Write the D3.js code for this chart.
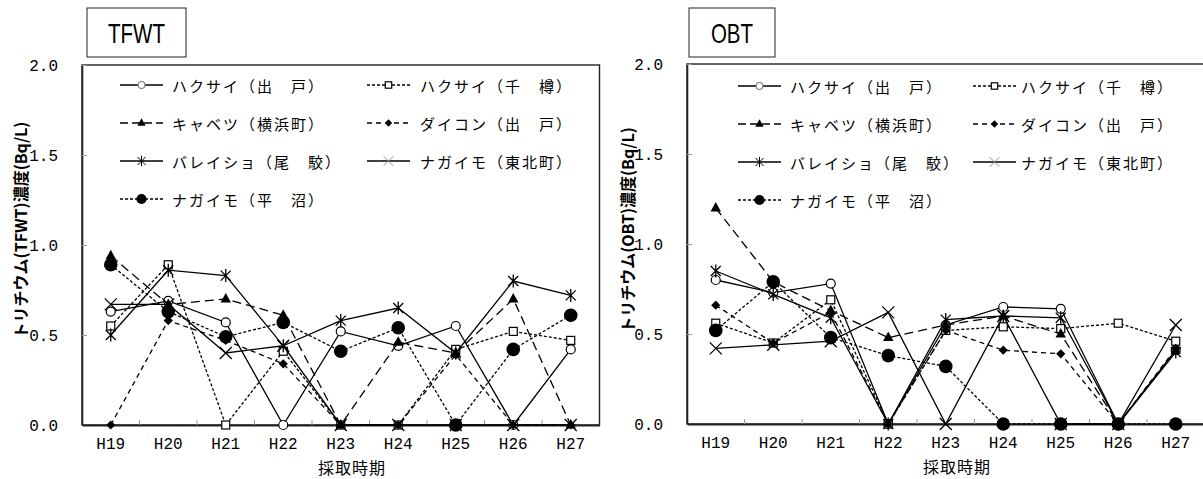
<!DOCTYPE html>
<html><head><meta charset="utf-8">
<script src="https://cdn.jsdelivr.net/npm/d3@7"></script>
<style>body{margin:0;background:#fff;} svg{display:block}</style>
</head><body>
<script>
// ---------------- DATA ----------------
const categories = ["H19","H20","H21","H22","H23","H24","H25","H26","H27"];
const seriesNames = ["ハクサイ（出　戸）","ハクサイ（千　樽）","キャベツ（横浜町）","ダイコン（出　戸）","バレイショ（尾　駮）","ナガイモ（東北町）","ナガイモ（平　沼）"];
const yTickValues = [0.0, 0.5, 1.0, 1.5, 2.0];

// TFWT
const tfwtHakusaiDeto     = [0.63,0.69,0.57,0.00,0.52,0.44,0.55,0.00,0.42];
const tfwtHakusaiChitaru  = [0.55,0.89,0.00,0.41,0.00,0.00,0.42,0.52,0.47];
const tfwtCabbage         = [0.94,0.67,0.70,0.61,0.00,0.46,0.40,0.70,0.00];
const tfwtDaikon          = [0.00,0.58,0.47,0.34,0.00,0.00,0.39,0.00,0.00];
const tfwtBareisho        = [0.50,0.86,0.83,0.44,0.58,0.65,0.40,0.80,0.72];
const tfwtNagaimoTohoku   = [0.67,0.67,0.40,0.44,0.00,0.00,0.00,0.00,0.00];
const tfwtNagaimoHiranuma = [0.89,0.63,0.49,0.57,0.41,0.54,0.00,0.42,0.61];

// OBT
const obtHakusaiDeto     = [0.80,0.73,0.78,0.00,0.55,0.65,0.64,0.00,0.41];
const obtHakusaiChitaru  = [0.56,0.45,0.69,0.00,0.52,0.54,0.53,0.56,0.46];
const obtCabbage         = [1.20,0.79,0.63,0.48,0.55,0.60,0.50,0.00,0.41];
const obtDaikon          = [0.66,0.45,0.62,0.00,0.52,0.41,0.39,0.00,0.42];
const obtBareisho        = [0.85,0.72,0.59,0.00,0.58,0.60,0.59,0.00,0.40];
const obtNagaimoTohoku   = [0.42,0.44,0.46,0.62,0.00,0.60,0.00,0.00,0.55];
const obtNagaimoHiranuma = [0.52,0.79,0.48,0.38,0.32,0.00,0.00,0.00,0.00];

// ---------------- STYLES ----------------
const seriesDash   = [null, "3,2", "9,5", "5,4", null, null, "3,2"];
const seriesMarker = ["circle","square","triangle","diamond","star","x","dot"];

const W = 1203, H = 479;
const svg = d3.select("body").append("svg").attr("width", W).attr("height", H);
const JP = "'Noto Sans CJK JP','Noto Sans',sans-serif";
const MONO = "'Liberation Mono','DejaVu Sans Mono',monospace";

function drawMarker(g, type, k, legend) {
  const sw = legend ? 1 : 1.3;
  if (type === "circle") {
    g.append("circle").attr("r", 4.5*k).attr("fill","#fff").attr("stroke", legend ? "#555" : "#000").attr("stroke-width", legend ? 0.9 : 1.2);
  } else if (type === "square") {
    g.append("rect").attr("x",-4*k).attr("y",-4*k).attr("width",8*k).attr("height",8*k)
      .attr("fill","#fff").attr("stroke","#000").attr("stroke-width", 1.2);
  } else if (type === "triangle") {
    g.append("path").attr("d", `M0,${-6*k}L${5.2*k},${3.5*k}L${-5.2*k},${3.5*k}Z`).attr("fill","#000");
  } else if (type === "diamond") {
    g.append("path").attr("d", `M0,${-4.6*k}L${4.6*k},0L0,${4.6*k}L${-4.6*k},0Z`).attr("fill","#000");
  } else if (type === "star") {
    const s = 6.5*k, d = 5*k;
    g.append("path").attr("d", `M0,${-s}L0,${s}M${-d},${-d}L${d},${d}M${d},${-d}L${-d},${d}`)
      .attr("stroke","#000").attr("stroke-width", sw).attr("fill","none");
  } else if (type === "x") {
    const d = 6*k;
    g.append("path").attr("d", `M${-d},${-d}L${d},${d}M${d},${-d}L${-d},${d}`)
      .attr("stroke", legend ? "#888" : "#000").attr("stroke-width", legend ? 0.9 : 1.3).attr("fill","none");
  } else if (type === "dot") {
    g.append("circle").attr("r", 6.8*k).attr("fill","#000");
  }
}

function drawChart(cfg) {
  const g = svg.append("g");
  const xs = d3.scaleBand().domain(categories).range([cfg.x0, cfg.x1]).padding(0);
  const ys = d3.scaleLinear().domain([0, 2]).range([cfg.yBot, cfg.yTop]);
  const cx = c => xs(c) + xs.bandwidth()/2;

  // plot frame
  g.append("rect").attr("x", cfg.x0).attr("y", cfg.yTop)
    .attr("width", cfg.x1 - cfg.x0).attr("height", cfg.yBot - cfg.yTop)
    .attr("fill","none").attr("stroke","#222").attr("stroke-width",1.4);

  // y axis
  const yAxis = d3.axisLeft(ys).tickValues(yTickValues).tickFormat(d3.format(".1f"))
    .tickSizeInner(-5).tickSizeOuter(0).tickPadding(24);
  const ya = g.append("g").attr("transform", `translate(${cfg.x0},0)`).call(yAxis);
  ya.select(".domain").attr("stroke","#222").attr("stroke-width",1.6);
  ya.selectAll(".tick line").attr("stroke","#999");
  ya.selectAll(".tick text").attr("font-family", MONO).attr("font-size", 16).attr("fill","#000");

  // x axis: labels at band centres
  const xAxis = d3.axisBottom(xs).tickSize(0).tickPadding(13);
  const xa = g.append("g").attr("transform", `translate(0,${cfg.yBot})`).call(xAxis);
  xa.select(".domain").attr("stroke","#222").attr("stroke-width",2);
  xa.selectAll(".tick text").attr("font-family", MONO).attr("font-size", 16).attr("fill","#000");
  // boundary tick marks (inward)
  g.append("g").selectAll("line").data(categories.slice(1)).join("line")
    .attr("x1", c => xs(c)).attr("x2", c => xs(c))
    .attr("y1", cfg.yBot).attr("y2", cfg.yBot - 5).attr("stroke","#999");

  // axis titles
  g.append("text").attr("transform", `translate(${cfg.ylabX},${cfg.ylabY}) rotate(-90)`)
    .attr("text-anchor","middle").attr("dominant-baseline","central")
    .attr("font-family", JP).attr("font-weight","bold").attr("font-size",16).text(cfg.ylabel);
  g.append("text").attr("x", cfg.xlabX).attr("y", cfg.xlabY)
    .attr("text-anchor","middle").attr("dominant-baseline","central")
    .attr("font-family", JP).attr("font-size",16).attr("letter-spacing",1).text("採取時期");

  // title box
  g.append("rect").attr("x", cfg.tb[0]).attr("y", cfg.tb[1]).attr("width", cfg.tb[2]).attr("height", cfg.tb[3])
    .attr("fill","#fff").attr("stroke","#222").attr("stroke-width",1);
  g.append("text")
    .attr("transform", `translate(${cfg.tb[0]+cfg.tb[2]/2},${cfg.tb[1]+cfg.tb[3]/2+1}) scale(0.76,1)`)
    .attr("text-anchor","middle").attr("dominant-baseline","central")
    .attr("font-family","'Liberation Sans',Arial,sans-serif").attr("font-size",27).text(cfg.title);

  // legend
  const lg = g.append("g");
  seriesNames.forEach((name, i) => {
    const row = Math.floor(i/2), col = i % 2;
    const lx = cfg.legCols[col], ly = cfg.legRows[row];
    const item = lg.append("g");
    item.append("line").attr("x1", lx).attr("x2", lx + 43).attr("y1", ly).attr("y2", ly)
      .attr("stroke","#000").attr("stroke-width",1.3)
      .attr("stroke-dasharray", seriesDash[i] ? (i===2 ? "8,4" : seriesDash[i]) : null);
    const m = item.append("g").attr("transform", `translate(${lx + 21.5},${ly})`);
    drawMarker(m, seriesMarker[i], seriesMarker[i]==="dot" ? 0.75 : 0.8, true);
    item.append("text").attr("x", lx + cfg.legTextOff[col]).attr("y", ly)
      .attr("dominant-baseline","central").attr("font-family", JP).attr("font-size",15)
      .attr("letter-spacing",2).text(name);
  });

  // series
  const line = d3.line().x((d,i) => cx(categories[i])).y(d => ys(d));
  cfg.series.forEach((vals, i) => {
    const sg = g.append("g");
    sg.append("path").datum(vals).attr("d", line).attr("fill","none")
      .attr("stroke","#000").attr("stroke-width",1.3)
      .attr("stroke-dasharray", seriesDash[i]);
    sg.selectAll("g.m").data(vals).join("g").attr("class","m")
      .attr("transform", (d,j) => `translate(${cx(categories[j])},${ys(d)})`)
      .each(function() { drawMarker(d3.select(this), seriesMarker[i], 1, false); });
  });
}

drawChart({
  x0: 82, x1: 599.5, yTop: 65, yBot: 425,
  title: "TFWT", tb: [87, 8, 99, 49],
  ylabel: "トリチウム(TFWT)濃度(Bq/L)", ylabX: 20, ylabY: 230,
  xlabX: 352, xlabY: 467,
  legCols: [120, 367], legTextOff: [52, 53], legRows: [85, 123, 161, 199],
  series: [tfwtHakusaiDeto, tfwtHakusaiChitaru, tfwtCabbage, tfwtDaikon, tfwtBareisho, tfwtNagaimoTohoku, tfwtNagaimoHiranuma]
});

drawChart({
  x0: 687, x1: 1204.5, yTop: 64, yBot: 424,
  title: "OBT", tb: [689, 8, 86, 49],
  ylabel: "トリチウム(OBT)濃度(Bq/L)", ylabX: 627, ylabY: 230,
  xlabX: 957, xlabY: 466,
  legCols: [738, 973], legTextOff: [52, 48], legRows: [86, 124, 162, 200],
  series: [obtHakusaiDeto, obtHakusaiChitaru, obtCabbage, obtDaikon, obtBareisho, obtNagaimoTohoku, obtNagaimoHiranuma]
});
</script>
</body></html>
